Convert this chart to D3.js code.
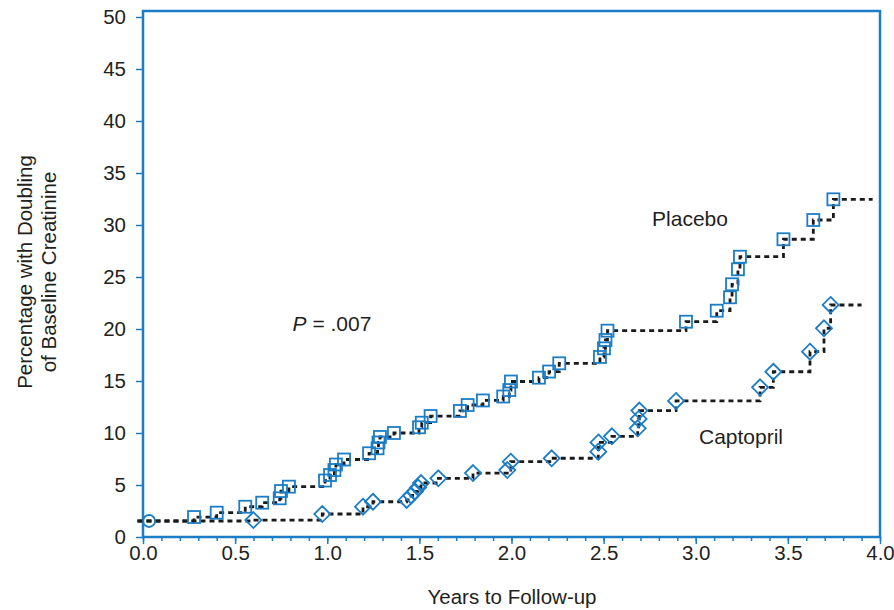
<!DOCTYPE html>
<html><head><meta charset="utf-8">
<script src="https://cdn.jsdelivr.net/npm/d3@7/dist/d3.min.js"></script>
<style>body{margin:0;background:#fff}svg{display:block}text{font-family:"Liberation Sans",Arial,sans-serif;fill:#231f20}</style>
</head><body><svg id="c" width="894" height="610"></svg>
<script>
const startPoint = {x: 0.033, y: 1.54};
const placeboX = [0.277,0.400,0.555,0.647,0.742,0.749,0.792,0.988,1.015,1.039,1.047,1.091,1.227,1.273,1.278,1.286,1.362,1.498,1.513,1.561,1.720,1.762,1.845,1.955,1.988,1.997,2.149,2.204,2.259,2.480,2.502,2.510,2.521,2.947,3.114,3.186,3.197,3.229,3.240,3.476,3.638,3.747];
const placeboY = [1.92,2.34,2.91,3.30,3.72,4.42,4.84,5.43,5.96,6.44,6.97,7.45,8.05,8.53,9.09,9.62,10.0,10.55,10.99,11.63,12.12,12.69,13.13,13.51,14.13,14.95,15.32,15.91,16.70,17.31,18.14,18.94,19.84,20.70,21.76,23.05,24.30,25.74,26.95,28.63,30.48,32.47];
const placeboEnd = 3.96;
const captoprilX = [0.599,0.973,1.194,1.248,1.431,1.455,1.476,1.493,1.509,1.603,1.791,1.977,1.996,2.218,2.471,2.472,2.545,2.685,2.690,2.694,2.893,3.349,3.421,3.620,3.696,3.732];
const captoprilY = [1.63,2.21,2.91,3.39,3.56,3.99,4.38,4.76,5.19,5.64,6.15,6.44,7.24,7.57,8.20,9.09,9.68,10.45,11.35,12.16,13.08,14.39,15.89,17.82,20.07,22.31];
const captoprilEnd = 3.90;
const xTicks = [0,0.5,1,1.5,2,2.5,3,3.5,4];
const yTicks = [0,5,10,15,20,25,30,35,40,45,50];

const blue = "#1b7dc6";
const svg = d3.select("#c");
const L = 143, R = 880, T = 17, B = 537;
const x = d3.scaleLinear().domain([0,4]).range([L,R]);
const y = d3.scaleLinear().domain([0,50]).range([B,T]);
const FS = 20.5;

// frame
svg.append("rect").attr("x",L).attr("y",11).attr("width",R-L).attr("height",B-11)
  .attr("fill","none").attr("stroke",blue).attr("stroke-width",2.5);

// axes
const xa = svg.append("g").attr("transform",`translate(0,${B})`)
  .call(d3.axisBottom(x).tickValues(xTicks).tickFormat(d3.format(".1f")).tickSize(7).tickPadding(1));
const xm = svg.append("g").attr("transform",`translate(0,${B})`)
  .call(d3.axisBottom(x).tickValues(d3.range(0,41).map(i=>i/10)).tickFormat("").tickSize(4));
const ya = svg.append("g").attr("transform",`translate(${L},0)`)
  .call(d3.axisLeft(y).tickValues(yTicks).tickSize(7).tickPadding(10));
[xa,xm,ya].forEach(g=>{
  g.select(".domain").remove();
  g.selectAll(".tick line").attr("stroke",blue).attr("stroke-width",1.5);
  g.selectAll(".tick text").attr("font-size",FS).attr("fill","#231f20").style("font-family","'Liberation Sans',Arial,sans-serif");
});

// axis titles
svg.append("text").attr("x",512).attr("y",604).attr("text-anchor","middle").attr("font-size",FS).text("Years to Follow-up");
const yt = svg.append("text").attr("transform",`translate(0,272) rotate(-90)`).attr("text-anchor","middle").attr("font-size",FS);
yt.append("tspan").attr("x",0).attr("y",32).text("Percentage with Doubling");
yt.append("tspan").attr("x",0).attr("y",56).text("of Baseline Creatinine");

// step lines
const line = d3.line().x(d=>x(d[0])).y(d=>y(d[1])).curve(d3.curveStepAfter);
function series(xs, ys, endX){
  const pts = [[-0.03, startPoint.y]];
  xs.forEach((v,i)=>pts.push([v, ys[i]]));
  pts.push([endX, ys[ys.length-1]]);
  return pts;
}
[[placeboX,placeboY,placeboEnd],[captoprilX,captoprilY,captoprilEnd]].forEach(([xs,ys,e])=>{
  svg.append("path").datum(series(xs,ys,e)).attr("d",line)
    .attr("fill","none").attr("stroke","#1a1a1a").attr("stroke-width",2.8).attr("stroke-dasharray","5,4");
});

// markers
svg.append("circle").attr("cx",x(startPoint.x)).attr("cy",y(startPoint.y)).attr("r",6)
  .attr("fill","none").attr("stroke",blue).attr("stroke-width",1.8);
svg.selectAll(".sq").data(placeboX.map((v,i)=>[v,placeboY[i]])).join("rect")
  .attr("x",d=>x(d[0])-6).attr("y",d=>y(d[1])-6).attr("width",12).attr("height",12)
  .attr("fill","none").attr("stroke",blue).attr("stroke-width",1.8);
svg.selectAll(".dm").data(captoprilX.map((v,i)=>[v,captoprilY[i]])).join("path")
  .attr("d",d=>{const cx=x(d[0]),cy=y(d[1]),r=8;return `M${cx},${cy-r}L${cx+r},${cy}L${cx},${cy+r}L${cx-r},${cy}Z`;})
  .attr("fill","none").attr("stroke",blue).attr("stroke-width",1.8);

// labels
svg.append("text").attr("x",690).attr("y",226).attr("text-anchor","middle").attr("font-size",21).text("Placebo");
svg.append("text").attr("x",741).attr("y",444).attr("text-anchor","middle").attr("font-size",21).text("Captopril");
const pt = svg.append("text").attr("x",332).attr("y",331).attr("text-anchor","middle").attr("font-size",21);
pt.append("tspan").attr("font-style","italic").text("P");
pt.append("tspan").text(" = .007");
</script></body></html>
